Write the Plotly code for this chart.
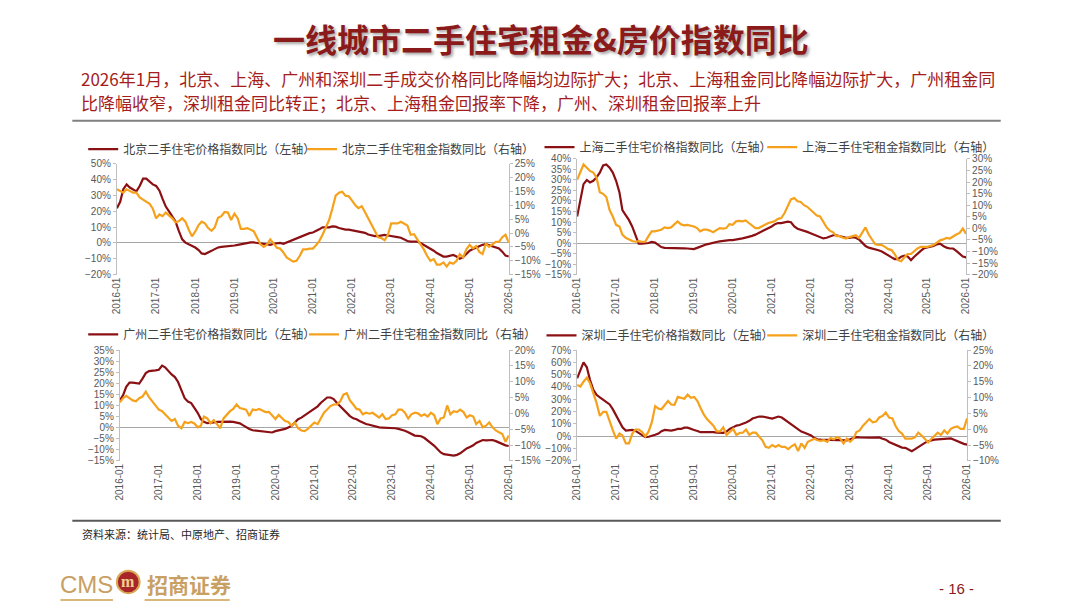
"""
一线城市二手住宅租金&房价指数同比 - four panel dual-axis line chart
"""

# ----------------------------------------- Imports ----------------------------------------- #

import pandas as pd
import plotly.graph_objects as go

# ----------------------------------------- Data ----------------------------------------- #

months = pd.date_range("2016-01-01", "2026-01-01", freq="MS")
year_ticks = pd.date_range("2016-01-01", "2026-01-01", freq="YS")
year_labels = [d.strftime("%Y-%m") for d in year_ticks]

cities = ["北京", "上海", "广州", "深圳"]

# 二手住宅价格指数同比 (%), monthly 2016-01 .. 2026-01
bj_price = [22, 26, 34, 37, 35, 33.5, 32.6, 36, 40.6, 40.6, 39, 37,
            36, 33, 28, 23, 20, 16.5, 13.5, 7.4, 2.3, 0.2, -0.8, -1.8,
            -2.9, -4.5, -6.6, -7, -6.2, -5, -3.9, -2.9, -2.5, -2.3, -2.3, -2,
            -1.6, -1.2, -0.8, -0.4, 0, 0.3, 0.3, 0, -0.5, -1, -1.3, -1.2,
            -0.5, 0, 0, -0.5, 0.3, 1.2, 2.3, 3, 3.7, 4.5, 5.3, 6.2,
            6.6, 7.4, 8.6, 9.9, 9.9, 9.9, 10.5, 10.3, 9.4, 8.8, 8.4, 8.4,
            8, 7.8, 7.4, 7, 6.4, 5.3, 4.7, 4.3, 4.3, 4.7, 5.1, 4.7,
            4.5, 4.1, 3.7, 3.3, 2.3, 1.2, 0.8, 0.8, 0.8, 0, -1.2, -2.5,
            -3.5, -4.9, -6.4, -7.6, -8.6, -8.6, -8, -7.6, -8.6, -10, -9, -7,
            -4.9, -3.9, -2.9, -1.8, -1.2, -0.8, -1.4, -2.5, -2.9, -3.5, -5.5, -8,
            -8.6]
sh_price = [12.6, 20.3, 28, 30, 28.8, 29.6, 31.2, 33.5, 36.9, 37.4, 35.8, 33.5,
            29.6, 24.2, 15.7, 13.3, 11, 7.9, 4, -0.3, -0.3, -0.3, 0, 0.5,
            0.2, -0.9, -1.9, -2.3, -2.3, -2.2, -2.3, -2.2, -2.5, -2.5, -2.6, -2.9,
            -2.9, -2.3, -1.7, -1.1, -0.6, -0.3, 0.2, 0.5, 0.8, 1.1, 1.2, 1.4,
            1.4, 1.6, 1.7, 2.2, 2.6, 2.9, 3.4, 4, 4.8, 5.4, 6, 6.8,
            7.9, 9, 9.5, 9.5, 9.9, 10.2, 9.9, 7.9, 6.8, 6.4, 5.9, 5.3,
            4.7, 4, 3.3, 2.5, 2.2, 2.5, 3.1, 3.7, 3.7, 3.3, 2.8, 2.5,
            2.5, 2.8, 2.5, 1.7, 0.2, -1.4, -2.2, -2.5, -2.9, -3.4, -4, -5,
            -6, -6.8, -7.6, -7.6, -6.5, -6, -6.4, -8.1, -6.5, -5, -3.7, -2.5,
            -2.2, -1.9, -1.4, -0.6, -0.3, -1.4, -2.2, -2.6, -2.6, -3.7, -5.3, -6.4,
            -6.8]
gz_price = [12.2, 14.7, 18.4, 20.3, 20.3, 20.2, 19.9, 22.1, 24.6, 25.5, 25.5, 25.8,
            26.1, 28, 27.2, 25.5, 24, 22.8, 20.6, 16.9, 13.3, 11.8, 11.1, 8.9,
            6.7, 3.8, 2.6, 2, 2, 2.3, 2.6, 2.7, 2.7, 2.7, 2.7, 2.6,
            2.3, 1.9, 1.1, 0.1, -0.6, -1.2, -1.4, -1.4, -1.6, -2.1, -2.2, -2.2,
            -1.6, -1.2, -1.1, -0.6, 0.1, 0.8, 2.3, 3.8, 4.5, 5.5, 6.4, 7.4,
            8.5, 9.6, 11.1, 12.5, 13.6, 13.6, 12.9, 11.1, 9.6, 8.2, 6.7, 5.2,
            4.2, 3.8, 3, 2.3, 1.6, 1.3, 0.8, 0.4, 0.1, 0, 0, -0.2,
            -0.2, -0.3, -0.6, -0.9, -1.4, -2.1, -3, -3.6, -3.7, -3.9, -4.7, -5.8,
            -6.9, -8.2, -9.7, -11.2, -12, -12.3, -12.3, -12.6, -12.3, -11.6, -10.5, -9.4,
            -8.7, -8, -6.9, -6.1, -5.6, -5.8, -5.8, -5.6, -6.1, -6.8, -7.5, -8,
            -8.3]
sz_price = [47, 53.5, 60, 56, 45.6, 37.7, 33.7, 31.6, 29.7, 27.6, 25.8, 21.8,
            16.5, 11.2, 7.2, 4.6, 4.6, 5.1, 4.3, 2.8, 1.4, -0.7, -0.4, 0.1,
            1.2, 2.2, 4.1, 5.1, 4.6, 4.6, 5.1, 5.9, 5.9, 7, 7, 5.9,
            5.1, 4.3, 3.3, 3.3, 3.3, 3.8, 3.3, 3, 2.8, 2.8, 3.8, 5.9,
            7.2, 8.6, 9.1, 9.9, 11.2, 12.5, 14.4, 15.2, 16, 16, 15.7, 14.9,
            14.4, 15.2, 16, 15.2, 13.3, 11.2, 9.1, 7.2, 5.4, 3.8, 2.8, 2,
            0.6, -1.5, -2.5, -2.8, -2.8, -3.1, -3.1, -3.1, -3.1, -3.1, -3.3, -3.3,
            -2.5, -1.5, -0.7, -1, -1.2, -1.5, -1.2, -1.2, -1, -1, -2, -2.8,
            -4.7, -6, -7.3, -8.6, -9.2, -9.4, -10.5, -12.1, -10.5, -8.6, -7.3, -5.4,
            -4.1, -3.3, -2.8, -2.5, -2.3, -2, -2, -1.8, -2.8, -4.1, -5.4, -6.2,
            -6.8]

# 二手住宅租金指数同比 (%), monthly 2016-01 .. 2026-01
bj_rent = [15.8, 15.2, 14.6, 15.8, 15.2, 14.6, 14.6, 12.9, 12.1, 11.5, 10.6, 8.8,
           5.3, 6.7, 6.1, 7.4, 6.4, 5.3, 3.8, 4.3, 5.3, 4.1, 1.2, -1.2,
           0.6, 2.9, 4.1, 3.5, 1.8, 0.8, 2.0, 5.5, 6.1, 7.6, 7.4, 4.7,
           7.0, 5.3, 1.5, 1.5, 1.8, 1.2, 0.6, -1.8, -4.1, -5.0, -4.1, -2.3,
           -3.9, -5.3, -5.6, -7.0, -8.8, -9.5, -10.3, -10.0, -8.2, -5.9, -5.9, -5.6,
           -5.6, -4.3, -2.9, -0.6, 1.8, 4.7, 8.8, 13.5, 14.6, 14.9, 13.5, 13.3,
           11.7, 10.0, 9.0, 9.7, 7.6, 5.3, 2.9, 0.6, -1.5, -1.8, -2.6, -0.6,
           3.5, 3.5, 3.5, 4.1, 3.5, 2.7, -0.6, -0.4, -2.3, -4.1, -5.9, -8.2,
           -10.0, -9.4, -11.4, -11.4, -10.6, -12.1, -10.6, -11.1, -10.0, -7.6, -8.8, -5.9,
           -4.3, -5.5, -4.7, -6.8, -7.6, -3.9, -5.0, -4.1, -3.2, -3.2, -1.5, -0.6,
           -3.5]
sh_rent = [21, 24.8, 27.6, 26.2, 24.8, 24.1, 22, 15.6, 14.9, 13.5, 7.9, 5.1,
           1.5, 0.8, -2.7, -4.1, -4.8, -5.5, -5.8, -5.5, -5.8, -5.8, -3.4, -1.3,
           -1.3, -1, -0.6, 0.4, 0.1, 0.4, 1.5, 3, 1.8, 1.3, 1.5, 1.3,
           0.8, 0.1, -1.3, -0.6, -0.6, -1, -1.7, -0.8, 0.1, -0.1, 0.1, 1.8,
           1.5, 3, 3.2, 3, 3.4, 2.3, 1.3, 0.1, 0.1, 0.8, 1.8, 2.3,
           2.7, 3.2, 4.1, 4.4, 6.5, 9.3, 12.5, 13.1, 11.7, 11.4, 10, 9.3,
           7.9, 6.5, 5.5, 5.1, 3, 0.4, -1, -1.7, -3.4, -3.4, -4.1, -4.4,
           -3.8, -3.4, -3, -4.1, -2, 0.4, -2.7, -4.8, -6.9, -7.2, -7.2, -8,
           -9, -9.4, -11.1, -13.7, -14.2, -12.5, -11.1, -11.1, -9.7, -8.7, -8, -8,
           -8, -7.6, -7.2, -6.2, -5.2, -4.8, -4.1, -4.4, -3.4, -2.7, -2, -0.1,
           -2.4]
gz_rent = [3.5, 4.8, 5.5, 4.8, 4.1, 3.8, 4.8, 5.3, 6.9, 5.1, 3.8, 2.8,
           1.2, 0.7, -0.3, -1.3, -2.4, -1.8, -3.9, -4.7, -2.7, -3.1, -2.7, -3.2,
           -4.4, -3.9, -1, -1.6, -3.1, -2.1, -3.4, -4.7, -1.6, -0.3, 0.7, 1.4,
           2.8, 1.7, 1.4, 1.2, -0.8, 1.2, 1, 1.4, 0.9, 0.4, 0.5, -0.8,
           -1.8, -0.5, -1.3, -2.4, -2.7, -3.9, -2.9, -4.7, -5.4, -5.6, -4.9, -3.9,
           -2.9, -3.4, -1.6, 0.2, 1.2, 2.3, 2.8, 2.8, 3.8, 5.9, 6.4, 4.1,
           2.8, 1.4, 1.2, -0.3, 0.2, -0.1, 0.2, -0.5, -1.3, -0.3, -1.8, -1.6,
           -0.6, -0.3, 1.2, 1.2, 0.2, -1.6, -0.3, 0.2, 0, -0.8, -0.3, -1,
           0.2, -0.6, -3.4, -1.6, -1.3, 2.5, -0.3, 0.7, 0.4, 1.2, 0.4, -1.3,
           -0.6, -1, -3.4, -2.4, -4.4, -3.9, -2.9, -4.4, -5.4, -6, -6.5, -9,
           -7]
sz_rent = [14, 13.5, 15, 16.3, 14.5, 11.4, 8.3, 4.2, 5.5, 5.5, 2.2, -0.4,
           -3, -1.4, -2, -4.5, -4.5, -1.4, -0.1, -0.1, -0.9, -2.3, -0.7, 2.2,
           7.3, 6.5, 6.3, 7.5, 8.9, 7.8, 7.7, 10.2, 9.9, 9.6, 10.9, 9.9,
           10.2, 8.9, 6.8, 4.7, 3.2, 2.2, 1.1, -0.7, -0.7, 0.6, -1.8, -0.9,
           0.1, -1.8, -1.2, -1.1, -0.1, -1.8, -1.1, -1.1, -2.5, -3.5, -5.6, -5.9,
           -5, -5.6, -5, -5.6, -5.6, -6.3, -5.4, -4.8, -6.9, -4.5, -5.9, -4,
           -3.5, -3, -3.5, -3.7, -3.5, -4, -2.8, -3.2, -2.5, -3, -4.5, -3,
           -4, -3, -0.9, -0.4, 1.1, 2.2, 3.2, 2.2, 2.4, 3.7, 4.2, 5.3,
           3.7, 3.4, 1.1, -0.6, -1.4, -3, -3, -3, -2.5, -1.1, -2, -3.2,
           -4.2, -3, -2, -1.1, -1.8, -0.4, -1.4, 0.1, 0.6, 0.9, 0.1, 0.1,
           3.4]

# axis ranges / steps per panel: (left range, left dtick, right range, right dtick)
axis_specs = [([-20, 50], 10, [-15, 25], 5),
              ([-15, 40], 5, [-20, 30], 5),
              ([-15, 35], 5, [-15, 20], 5),
              ([-20, 70], 10, [-10, 25], 5)]

# ----------------------------------------- Style ----------------------------------------- #

W, H = 1080, 608
PRICE_COLOR = "#8B1014"
RENT_COLOR = "#F5A11C"
AXIS_COLOR = "#BFBFBF"
TICK_FONT = dict(family="Liberation Sans Narrow, Liberation Sans, Arial", size=10, color="#595959")
CJK = "Noto Sans CJK SC, Noto Sans, sans-serif"
DARK_RED = "#8B1A1A"


def px_x(x):
    return x / W


def px_y(y):
    return 1 - y / H


# plot area pixel boxes (left, right, top, bottom)
boxes = [(112, 508, 161, 274), (577, 970, 156, 274),
         (115, 508, 351, 464), (577, 971, 351, 464)]
# legend item origins (price item x, rent item x, y)
legend_pos = [(78, 299, 146), (539, 764, 144), (78, 301, 335), (541, 764, 336)]

# ----------------------------------------------------------------------------------------

fig = go.Figure()

price_series = [bj_price, sh_price, gz_price, sz_price]
rent_series = [bj_rent, sh_rent, gz_rent, sz_rent]

layout = {}
for i, city in enumerate(cities):
    n = i + 1
    xname = "x" if n == 1 else f"x{n}"
    yl = "y" if n == 1 else f"y{2 * n - 1}"
    yr = f"y{2 * n}"
    leg_p = "legend" if n == 1 else f"legend{2 * n - 1}"
    leg_r = f"legend{2 * n}"

    fig.add_trace(go.Scatter(
        x=months, y=price_series[i], xaxis=xname, yaxis=yl,
        mode="lines", line=dict(color=PRICE_COLOR, width=2.2),
        name=f"{city}二手住宅价格指数同比（左轴）", legend=leg_p))
    fig.add_trace(go.Scatter(
        x=months, y=rent_series[i], xaxis=xname, yaxis=yr,
        mode="lines", line=dict(color=RENT_COLOR, width=2.2),
        name=f"{city}二手住宅租金指数同比（右轴）", legend=leg_r))

    left, right, top, bottom = boxes[i]
    lrange, ldt, rrange, rdt = axis_specs[i]
    xkey = "xaxis" if n == 1 else f"xaxis{n}"
    ylkey = "yaxis" if n == 1 else f"yaxis{2 * n - 1}"
    yrkey = f"yaxis{2 * n}"

    layout[xkey] = dict(
        domain=[px_x(left), px_x(right)], anchor=yl,
        type="date", range=[months[0], months[-1]],
        tickvals=list(year_ticks), ticktext=year_labels, tickangle=-90,
        tickfont=TICK_FONT, showgrid=False, showline=False, zeroline=False,
        ticks="")
    layout[ylkey] = dict(
        domain=[px_y(bottom), px_y(top)], anchor=xname,
        range=lrange, dtick=ldt, ticksuffix="%", tickfont=TICK_FONT,
        showgrid=False, showline=True, linecolor=AXIS_COLOR, linewidth=1,
        ticks="outside", ticklen=3, tickcolor=AXIS_COLOR,
        zeroline=True, zerolinecolor="#A6A6A6", zerolinewidth=1)
    layout[yrkey] = dict(
        overlaying=yl, side="right", anchor=xname,
        range=rrange, dtick=rdt, ticksuffix="%", tickfont=TICK_FONT,
        showgrid=False, showline=True, linecolor=AXIS_COLOR, linewidth=1,
        ticks="outside", ticklen=3, tickcolor=AXIS_COLOR, zeroline=False)

    # one single-item legend per series so each entry sits where the original puts it
    px_p, px_r, ly = legend_pos[i]
    for key, lx in ((leg_p, px_p), (leg_r, px_r)):
        layout[key] = dict(
            orientation="h", x=px_x(lx), y=px_y(ly), xanchor="left", yanchor="middle",
            bgcolor="rgba(0,0,0,0)", font=dict(family=CJK, size=12, color="#404040"),
            itemwidth=30)

fig.update_layout(**layout)

# ----------------------------------------- Page furniture ----------------------------------------- #

subtitle_lines = [
    "2026年1月，北京、上海、广州和深圳二手成交价格同比降幅均边际扩大；北京、上海租金同比降幅边际扩大，广州租金同",
    "比降幅收窄，深圳租金同比转正；北京、上海租金回报率下降，广州、深圳租金回报率上升",
]

annotations = [
    dict(text="一线城市二手住宅租金&房价指数同比", x=0.5, y=px_y(33), xanchor="center", yanchor="middle",
         font=dict(family=CJK, size=32, color=DARK_RED, weight="bold",
                   shadow="2px 2px 3px rgba(0,0,0,0.35)")),
    dict(text=subtitle_lines[0], x=px_x(74), y=px_y(73.5), xanchor="left", yanchor="middle",
         font=dict(family=CJK, size=17, color="#A51C1C")),
    dict(text=subtitle_lines[1], x=px_x(74), y=px_y(98), xanchor="left", yanchor="middle",
         font=dict(family=CJK, size=17, color="#A51C1C")),
    dict(text="资料来源：统计局、中原地产、招商证券", x=px_x(75), y=px_y(539), xanchor="left", yanchor="middle",
         font=dict(family=CJK, size=11, color="#262626")),
    dict(text="CMS", x=px_x(53), y=px_y(590), xanchor="left", yanchor="middle",
         font=dict(family="Liberation Sans Narrow, Liberation Sans, Arial", size=24, color="#C9A063")),
    dict(text="m", x=px_x(123.5), y=px_y(587), xanchor="center", yanchor="middle",
         font=dict(family="Liberation Serif", size=16, color="#F2D08A", weight="bold")),
    dict(text="招商证券", x=px_x(140), y=px_y(590), xanchor="left", yanchor="middle",
         font=dict(family=CJK, size=21, color="#C9A063", weight="bold")),
    dict(text="- 16 -", x=px_x(960), y=px_y(594), xanchor="center", yanchor="middle",
         font=dict(family="Liberation Sans", size=15, color=DARK_RED)),
]
for a in annotations:
    a.update(xref="paper", yref="paper", showarrow=False)

shapes = [
    dict(type="line", x0=px_x(67), x1=px_x(1005), y0=px_y(117), y1=px_y(117),
         line=dict(color="#808080", width=2)),
    dict(type="line", x0=px_x(67), x1=px_x(1005), y0=px_y(525), y1=px_y(525),
         line=dict(color="#595959", width=2)),
    dict(type="circle", x0=px_x(112), x1=px_x(135), y0=px_y(599), y1=px_y(576),
         fillcolor="#A8262A", line=dict(color="#D9A955", width=2)),
    dict(type="line", x0=px_x(55), x1=px_x(108), y0=px_y(606), y1=px_y(606),
         line=dict(color="#D9B77A", width=2)),
    dict(type="line", x0=px_x(140), x1=px_x(226), y0=px_y(606), y1=px_y(606),
         line=dict(color="#D9B77A", width=2)),
]
for s in shapes:
    s.update(xref="paper", yref="paper")

fig.update_layout(
    width=W, height=H, autosize=False,
    margin=dict(l=0, r=0, t=0, b=0),
    paper_bgcolor="white", plot_bgcolor="white",
    showlegend=True,
    annotations=annotations, shapes=shapes,
)

# drop the default body margin so the 1080x608 figure fills the window exactly
fig.write_html("out.html", config={"displayModeBar": False},
               post_script="document.body.style.margin = '0px';")
